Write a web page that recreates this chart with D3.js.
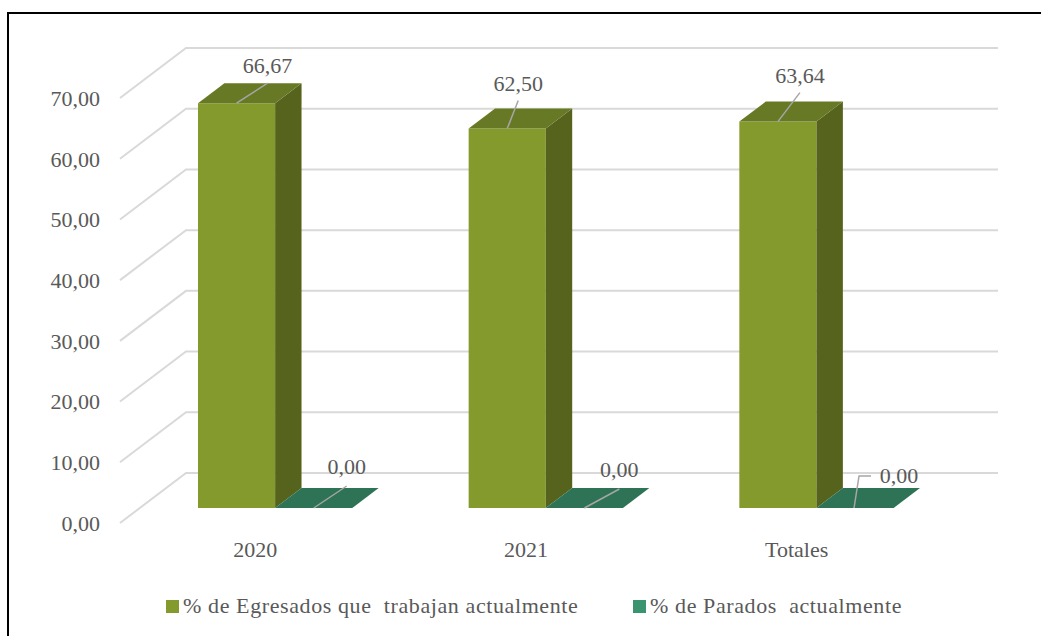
<!DOCTYPE html>
<html>
<head>
<meta charset="utf-8">
<script src="https://cdn.jsdelivr.net/npm/d3@7"></script>
<style>
  html, body { margin: 0; padding: 0; background: #fff; }
  svg { display: block; }
  svg text { font-family: 'Liberation Serif', 'DejaVu Serif', 'Times New Roman', serif; fill: #595959; white-space: pre; }
</style>
</head>
<body>
<svg id="chart" width="1041" height="636"></svg>
<script>
// ---- data ----
const categories = ["2020", "2021", "Totales"];
const seriesNames = ["% de Egresados que  trabajan actualmente", "% de Parados  actualmente"];
const egresadosTrabajan = [66.67, 62.50, 63.64];
const parados = [0.00, 0.00, 0.00];
const yTicks = [0, 10, 20, 30, 40, 50, 60, 70];

// ---- layout ----
const W = 1041, H = 636;
const FONT = "'Liberation Serif', 'DejaVu Serif', 'Times New Roman', serif";
const svg = d3.select("#chart");
const fmt = v => d3.format(".2f")(v).replace(".", ",");

const depth = { dx: 66, dy: -50 };    // full wall depth in screen pixels
const barFront = 0.3, barBack = 0.7;   // bar front/back planes as fraction of depth
const frontLeft = 120, frontRight = 932;

const x = d3.scaleBand().domain(categories).range([frontLeft, frontRight])
  .paddingInner(0.43).paddingOuter(0.215);
const y = d3.scaleLinear().domain([0, 70]).range([523, 98]);

const colors = [
  { front: "#849a2d", side: "#55631c", top: "#687925", legend: "#849a2d" },
  { front: "#2e7355", side: "#22563f", top: "#2e7355", legend: "#3a9470" }
];

// frame
svg.append("rect").attr("x", 8).attr("y", 13).attr("width", W + 20).attr("height", H + 20)
  .attr("fill", "none").attr("stroke", "#000").attr("stroke-width", 2);

// gridlines: left wall diagonals + back wall
const grid = svg.append("g").attr("stroke", "#d9d9d9").attr("stroke-width", 2).attr("fill", "none");
yTicks.forEach(v => {
  const yf = y(v), yb = y(v) + depth.dy;
  grid.append("path").attr("d",
    `M${frontLeft},${yf}L${frontLeft + depth.dx},${yb}L${frontRight + depth.dx},${yb}`);
});

const txt = g => g.attr("font-family", FONT).attr("font-size", 22).attr("fill", "#595959");

// y-axis labels
svg.append("g").call(txt).selectAll("text").data(yTicks).join("text")
  .attr("x", 100).attr("y", d => y(d)).attr("dy", "0.36em")
  .attr("text-anchor", "end").text(d => fmt(d));

// category labels
svg.append("g").call(txt).selectAll("text").data(categories).join("text")
  .attr("x", d => x(d) + x.bandwidth() / 2).attr("y", 557)
  .attr("text-anchor", "middle").text(d => d);

// bars
const series = [egresadosTrabajan, parados];
const half = x.bandwidth() / 2;
const fdx = depth.dx * barFront, fdy = depth.dy * barFront;
const bdx = depth.dx * (barBack - barFront), bdy = depth.dy * (barBack - barFront);

const barsG = svg.append("g");
const bars = [];
categories.forEach((c, i) => {
  series.forEach((s, k) => {
    const x0 = x(c) + k * half + fdx;
    const x1 = x0 + half;
    const y0 = y(0) + fdy;
    const yt = y(s[i]) + fdy;
    const col = colors[k];
    if (y0 - yt > 0.01) {
      barsG.append("path").attr("fill", col.front)
        .attr("d", `M${x0},${y0}L${x1},${y0}L${x1},${yt}L${x0},${yt}Z`);
      barsG.append("path").attr("fill", col.side)
        .attr("d", `M${x1},${y0}L${x1 + bdx},${y0 + bdy}L${x1 + bdx},${yt + bdy}L${x1},${yt}Z`);
    }
    barsG.append("path").attr("fill", col.top)
      .attr("d", `M${x0},${yt}L${x1},${yt}L${x1 + bdx},${yt + bdy}L${x0 + bdx},${yt + bdy}Z`);
    bars.push({ cx: (x0 + x1) / 2, yt, v: s[i], k, i });
  });
});

// data labels with leader lines (nudges reproduce the reference's placement)
const labelNudge = [
  [[31, -20], [33, -22]],
  [[11, -28], [35, -19]],
  [[22, -29], [null, -32]]
];
const lab = svg.append("g").call(txt);
bars.forEach(b => {
  const n = labelNudge[b.i][b.k];
  let ex, ey, tx, ty;
  if (n[0] === null) {
    ex = b.cx + 4; ey = b.yt + n[1];
    lab.append("path").attr("fill", "none").attr("stroke", "#a6a6a6").attr("stroke-width", 1.5)
      .attr("d", `M${b.cx - 1},${b.yt}L${ex},${ey}L${ex + 12},${ey}`);
    tx = ex + 40; ty = ey + 7;
  } else {
    ex = b.cx + n[0]; ey = b.yt + n[1];
    lab.append("line").attr("x1", b.cx).attr("y1", b.yt).attr("x2", ex).attr("y2", ey)
      .attr("stroke", "#a6a6a6").attr("stroke-width", 1.5);
    tx = ex; ty = ey - (b.k === 0 ? 10 : 12);
  }
  lab.append("text").attr("x", tx).attr("y", ty).attr("text-anchor", "middle").text(fmt(b.v));
});

// legend
const legendX = [166, 633];
const leg = svg.append("g").call(txt).attr("letter-spacing", 0.6);
seriesNames.forEach((name, k) => {
  leg.append("rect").attr("x", legendX[k]).attr("y", 600).attr("width", 13).attr("height", 13)
    .attr("fill", colors[k].legend);
  leg.append("text").attr("x", legendX[k] + 17).attr("y", 613).text(name);
});
</script>
</body>
</html>
